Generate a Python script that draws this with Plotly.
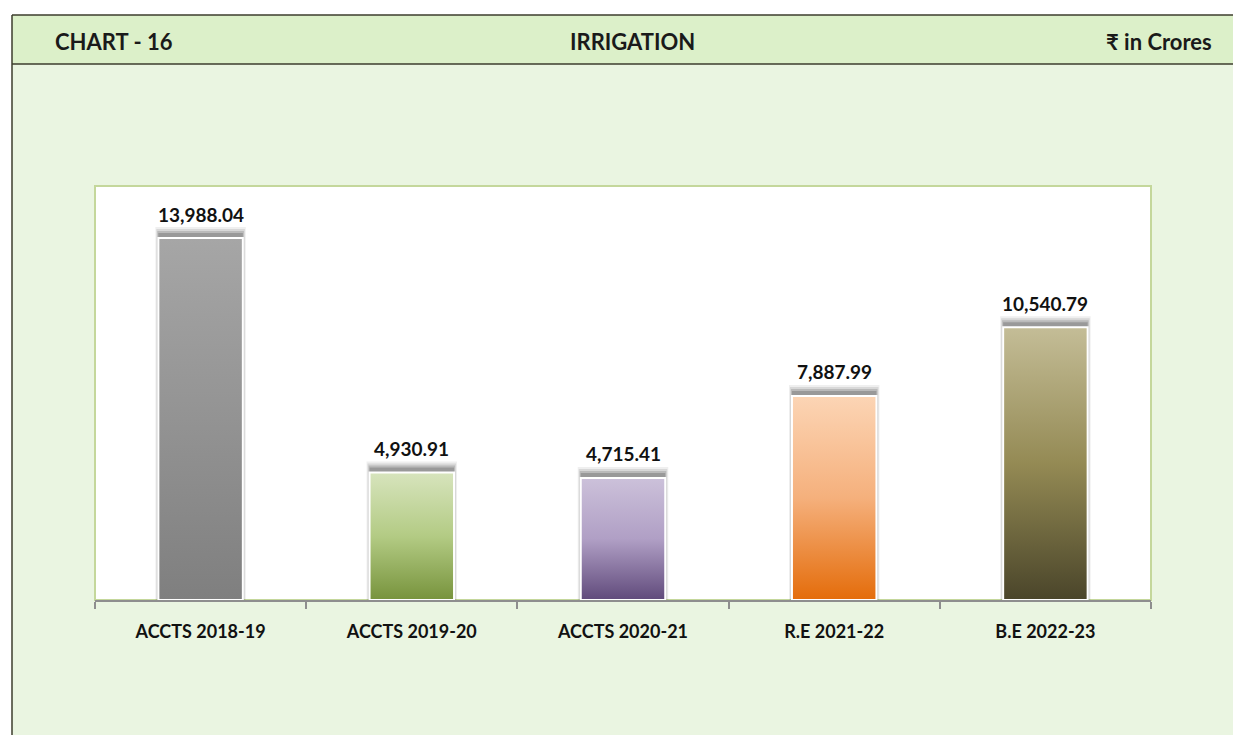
import plotly.graph_objects as go

# chart data
categories = ["ACCTS 2018-19", "ACCTS 2019-20", "ACCTS 2020-21", "R.E 2021-22", "B.E 2022-23"]
values = [13988.04, 4930.91, 4715.41, 7887.99, 10540.79]

# gradient colours per bar: bottom, middle, top
bar_bottom = ["#7F7F7F", "#77933C", "#604A7B", "#E46C0A", "#4A452A"]
bar_middle = ["#939393", "#B3CB84", "#B09FC5", "#F5B07C", "#948A54"]
bar_top = ["#A6A6A6", "#D7E4BD", "#CCC1DA", "#FCD5B5", "#C4BD97"]

# page body has an 8px margin, so the figure is drawn 8px in from the window corner;
# the figure is left full size so its right/bottom edges run past the window
OFF = 8
W, H = 1241, 735
ML, MT = 95 - OFF, 186 - OFF
MR, MB = W - (1151 - OFF), H - (600 - OFF)
PW, PH = W - ML - MR, H - MT - MB
YMAX = 16000
FONT = "Lato"


# window pixel -> paper fraction (layout decoration only)
def px_x(x):
    return (x - OFF - ML) / PW


def px_y(y):
    return (H - MB - (y - OFF)) / PH


y_per_px = YMAX / PH
x_per_px = 1.0 / (PW / len(categories))
half = 0.2

fig = go.Figure()

# soft shadow behind each bar (mostly above the top edge)
for i, v in enumerate(values):
    for up, side, alpha in [(11, 3, 0.08), (9, 2, 0.12), (7, 1, 0.18), (5, 0, 0.24)]:
        x0 = i - half - side * x_per_px
        x1 = i + half + side * x_per_px
        y1 = v + up * y_per_px
        fig.add_trace(go.Scatter(
            x=[x0, x1, x1, x0, x0], y=[0, 0, y1, y1, 0],
            mode="lines", fill="toself", line=dict(width=0),
            fillcolor=f"rgba(50,50,50,{alpha})", hoverinfo="skip", showlegend=False,
        ))

# bars with vertical gradient
for i, v in enumerate(values):
    x0, x1 = i - half, i + half
    fig.add_trace(go.Scatter(
        x=[x0, x1, x1, x0, x0], y=[0, 0, v, v, 0],
        mode="lines", fill="toself",
        line=dict(color="white", width=2),
        fillgradient=dict(
            type="vertical",
            colorscale=[[0, bar_bottom[i]], [0.5, bar_middle[i]], [1, bar_top[i]]],
        ),
        name=categories[i], hovertemplate="%{fullData.name}<extra></extra>",
        showlegend=False,
    ))

# data labels
for i, v in enumerate(values):
    fig.add_annotation(
        x=i, y=v, xref="x", yref="y", text=f"{v:,.2f}", showarrow=False,
        yanchor="middle", yshift=24,
        font=dict(family=FONT, size=19, color="#111111", weight="bold"),
    )

frame = "#3C3C2C"
shapes = [
    # body background
    dict(type="rect", xref="paper", yref="paper", x0=px_x(12), x1=px_x(1260),
         y0=px_y(760), y1=px_y(64), fillcolor="#EAF5E1", line=dict(width=0), layer="below"),
    # header band
    dict(type="rect", xref="paper", yref="paper", x0=px_x(12), x1=px_x(1260),
         y0=px_y(64), y1=px_y(15), fillcolor="#DCF0C9", line=dict(width=0), layer="below"),
    # plot area
    dict(type="rect", xref="paper", yref="paper", x0=0, x1=1, y0=0, y1=1,
         fillcolor="white", line=dict(color="#C4D79B", width=2), layer="below"),
    # frame lines
    dict(type="line", xref="paper", yref="paper", x0=px_x(12), x1=px_x(1260),
         y0=px_y(15), y1=px_y(15), line=dict(color=frame, width=1.5)),
    dict(type="line", xref="paper", yref="paper", x0=px_x(12), x1=px_x(1260),
         y0=px_y(64), y1=px_y(64), line=dict(color=frame, width=1.5)),
    dict(type="line", xref="paper", yref="paper", x0=px_x(12), x1=px_x(12),
         y0=px_y(15), y1=px_y(760), line=dict(color=frame, width=1.5)),
]

header_font = dict(family=FONT, size=22, color="#1A1A1A", weight="bold")
fig.add_annotation(x=px_x(53), y=px_y(41), xref="paper", yref="paper", text="CHART - 16",
                   showarrow=False, xanchor="left", yanchor="middle", font=header_font)
fig.add_annotation(x=px_x(632), y=px_y(41), xref="paper", yref="paper", text="IRRIGATION",
                   showarrow=False, xanchor="center", yanchor="middle", font=header_font)
fig.add_annotation(x=px_x(1214), y=px_y(41), xref="paper", yref="paper", text="₹ in Crores",
                   showarrow=False, xanchor="right", yanchor="middle", font=header_font)

fig.update_layout(
    width=W, height=H,
    margin=dict(l=ML, r=MR, t=MT, b=MB),
    paper_bgcolor="white",
    plot_bgcolor="rgba(0,0,0,0)",
    shapes=shapes,
    showlegend=False,
    xaxis=dict(
        range=[-0.5, len(categories) - 0.5],
        tickmode="array", tickvals=list(range(len(categories))), ticktext=categories,
        ticks="", showgrid=False, zeroline=False,
        showline=True, linecolor="#8E8E8E", linewidth=2,
        tickfont=dict(family=FONT, size=18, color="#111111", weight="bold"),
        ticklabelstandoff=14,
        minor=dict(tickmode="array", tickvals=[i - 0.5 for i in range(len(categories) + 1)],
                   ticks="outside", ticklen=7, tickwidth=2, tickcolor="#8E8E8E", showgrid=False),
        fixedrange=True,
    ),
    yaxis=dict(range=[0, YMAX], visible=False, fixedrange=True),
)

fig.write_html("out.html")
